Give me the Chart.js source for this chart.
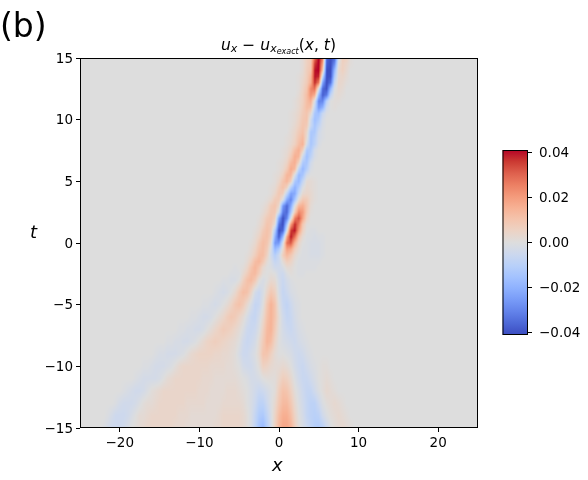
<!DOCTYPE html>
<html>
<head>
<meta charset="utf-8">
<style>
    body { margin: 0; background: #fff; }
    canvas { position: absolute; }
</style>
<script src="https://cdn.jsdelivr.net/npm/chart.js@4/dist/chart.umd.min.js"></script>
</head>
<body>
<canvas id="field" width="588" height="480" style="left:0;top:0"></canvas>
<canvas id="colorbar" width="98" height="205" style="left:490px;top:140px"></canvas>
<script>
// Tick labels
const xTicks = [-20, -10, 0, 10, 20];
const tTicks = [-15, -10, -5, 0, 5, 10, 15];
const barTicks = [-0.04, -0.02, 0, 0.02, 0.04];

// Grid: x every 0.5, values in thousandths.
// t every 0.5 where the band is narrow, every 1 below that.
const xStep = 0.5;
const tRows = [15, 14.5, 14, 13.5, 13, 12.5, 12, 11.5, 11, 10.5, 10, 9.5, 9, 8.5, 8, 7.5, 7, 6.5, 6, 5.5, 5, 4.5, 4, 3.5, 3, 2.5, 2, 1.5, 1, 0.5, 0, -0.5, -1, -1.5, -2, -2.5, -3, -4, -5, -6, -7, -8, -9, -10, -11, -12, -13, -14, -15];
// x of the first listed value in each row, everything outside the row is 0
const rowStarts = [3, 3, 3, 2.5, 2.5, 2.5, 2.5, 2, 2, 1.5, 1.5, 1.5, 1.5, 1, 1, 0.5, 0.5, 0, 0, -0.5, -0.5, -1, -1, -1.5, -2, -2.5, -2.5, -3, -3, -3, -3.5, -3.5, -4, -4.5, -5.5, -6, -7, -8, -9.5, -11, -12.5, -14, -15.5, -17, -18, -19.5, -20.5, -21.5, -22];
const rowValues = [
    [2, 6, 8, 30, 42, 26, -36, -41, -36, -3, 7, 6, 1],
    [2, 6, 9, 36, 42, 18, -38, -41, -28, 1, 6, 4, 1],
    [2, 7, 10, 40, 42, 10, -41, -41, -18, 3, 6, 3, 0],
    [1, 3, 7, 14, 40, 38, -8, -41, -40, -12, 3, 4, 2],
    [1, 4, 8, 16, 38, 26, -24, -41, -34, -6, 4, 3, 1],
    [1, 5, 10, 24, 28, -2, -36, -40, -18, -1, 3, 2, 0],
    [2, 6, 12, 22, 16, -18, -38, -32, -8, 1, 2, 1],
    [1, 3, 6, 12, 16, -2, -30, -30, -10, 0, 1, 1],
    [1, 3, 7, 12, 11, -8, -26, -20, -4, 0, 1],
    [1, 2, 4, 8, 10, 3, -14, -16, -6, -1],
    [1, 2, 5, 9, 10, -4, -16, -12, -3, 0],
    [1, 3, 6, 10, 8, -6, -14, -8, -2],
    [2, 4, 8, 11, 4, -13, -13, -4, -1],
    [1, 2, 5, 10, 13, 2, -14, -10, -3, -1],
    [1, 3, 6, 12, 15, -3, -14, -9, -2, 0],
    [1, 2, 5, 12, 16, 6, -13, -12, -3, 0],
    [1, 3, 8, 16, 14, -5, -16, -9, -2, 0],
    [1, 2, 5, 13, 16, 5, -13, -14, -4, 0],
    [1, 3, 8, 17, 13, -8, -18, -11, -2, 0],
    [1, 2, 6, 14, 14, -2, -18, -14, -3, 0, 0],
    [1, 4, 10, 14, 7, -13, -18, -7, 2, 2, 1],
    [1, 2, 7, 11, 6, -10, -20, -12, -1, 3, 2, 1],
    [1, 4, 9, 7, -8, -24, -22, -6, 3, 4, 3, 1],
    [1, 3, 8, 8, -2, -22, -30, -14, 2, 9, 8, 3, 1],
    [1, 3, 8, 10, 4, -26, -36, -22, 0, 14, 16, 9, 2, 0],
    [0, 2, 5, 9, 9, -4, -32, -36, -14, 8, 24, 20, 8, 1],
    [1, 4, 8, 10, 6, -24, -41, -30, -2, 26, 33, 18, 5, 0],
    [0, 2, 5, 10, 9, 1, -34, -41, -14, 20, 38, 26, 9, 1, 0],
    [1, 3, 8, 11, 8, -12, -41, -36, -2, 36, 40, 20, 6, 0, -1, -1],
    [2, 5, 10, 11, 6, -20, -38, -18, 18, 40, 28, 10, 2, -1, -1, -2, -1, -1],
    [1, 3, 8, 12, 10, 2, -26, -26, -3, 28, 32, 15, 4, 0, -1, -2, -2, -2, -1],
    [2, 5, 10, 12, 8, -2, -18, -12, 3, 19, 17, 7, 2, -1, -1, -2, -2, -2, -1],
    [1, 3, 7, 12, 12, 6, -4, -11, -5, 7, 13, 9, 3, 0, -1, -1, -2, -2, -2, -1],
    [0, 2, 6, 12, 14, 9, 2, -2, -7, -5, 2, 7, 5, 1, -1, -1, -1, -1, -1, -1],
    [-1, 0, 1, 4, 10, 14, 10, 3, 0, -1, -4, -4, -2, 2, 2, 0, -1, -1, -1, -1, -1],
    [-1, -1, -1, 3, 7, 12, 13, 7, 1, 0, 1, 0, -4, -5, -1, 1, 0, -1, -1, 0],
    [-1, -1, -2, -2, 0, 6, 11, 13, 9, 1, -2, 0, 3, 2, -3, -6, -3, -1, 0, 0, 0],
    [-1, -2, -3, -2, 0, 3, 8, 12, 11, 5, -3, -6, -2, 4, 9, 6, -2, -7, -5, -2, -1],
    [-1, -1, -2, -3, -2, 0, 2, 5, 9, 11, 8, 3, -2, -7, -6, 0, 9, 15, 10, 0, -6, -8, -5, -2, -1],
    [-1, -1, -2, -3, -3, -2, 0, 2, 4, 7, 9, 8, 5, 2, -2, -6, -7, -3, 3, 11, 15, 10, 2, -4, -7, -6, -3, -1],
    [-1, -1, -2, -2, -3, -3, -2, 0, 2, 4, 6, 8, 7, 6, 4, 2, -1, -5, -6, -5, -1, 6, 13, 15, 8, 1, -3, -5, -6, -4, -2, -1],
    [-1, -1, -2, -2, -3, -3, -2, -1, 1, 3, 5, 6, 7, 6, 5, 4, 3, 2, 0, -4, -6, -5, -3, 2, 8, 14, 12, 5, 0, -2, -3, -4, -5, -3, -2, -1],
    [-1, -2, -2, -3, -3, -3, -2, -1, 1, 3, 4, 5, 5, 5, 5, 4, 4, 3, 3, 2, 1, -2, -5, -5, -3, -1, 3, 10, 10, 6, 2, 0, 0, -1, -2, -4, -5, -4, -2, -1],
    [-1, -1, -2, -3, -3, -3, -2, -1, 1, 3, 4, 4, 4, 4, 4, 4, 4, 3, 3, 3, 3, 2, 2, 1, 0, -3, -4, -4, -2, 1, 6, 5, 3, 2, 2, 3, 2, 0, -3, -5, -6, -4, -2, -1, 0, 1, 1],
    [-1, -2, -3, -3, -3, -3, -2, 0, 2, 3, 4, 4, 4, 4, 4, 4, 4, 3, 3, 3, 2, 2, 2, 2, 2, 2, 1, 0, -1, -3, -3, -2, 0, 1, 1, 1, 4, 7, 6, 3, -1, -4, -6, -6, -4, -2, 0, 1, 2, 1],
    [-1, -2, -3, -4, -4, -3, -1, 1, 2, 3, 4, 4, 4, 4, 4, 4, 4, 4, 4, 3, 3, 3, 2, 2, 2, 2, 3, 3, 3, 2, 1, 0, -2, -4, -6, -5, -3, -1, 1, 7, 11, 10, 6, 1, -2, -5, -7, -7, -4, -1, 1, 3, 2, 1],
    [-1, -3, -4, -4, -4, -3, -1, 1, 2, 2, 3, 4, 4, 4, 4, 4, 4, 4, 3, 3, 3, 3, 3, 2, 2, 2, 2, 3, 3, 3, 3, 3, 2, 0, -2, -5, -9, -9, -5, -1, 3, 9, 13, 13, 9, 3, -1, -4, -7, -9, -9, -5, -1, 1, 2, 3, 2, 1],
    [-1, -3, -5, -5, -5, -4, -2, 0, 2, 2, 3, 4, 4, 4, 4, 4, 4, 4, 3, 3, 3, 2, 2, 2, 2, 2, 2, 2, 3, 4, 4, 4, 4, 4, 3, 1, -2, -7, -12, -13, -8, -2, 5, 12, 16, 16, 12, 5, 0, -3, -7, -9, -10, -9, -4, -1, 1, 2, 3, 2, 1],
    [-1, -3, -5, -5, -5, -4, -2, 0, 1, 2, 3, 4, 4, 4, 4, 4, 4, 4, 3, 3, 3, 2, 2, 2, 2, 2, 2, 2, 3, 3, 4, 4, 4, 4, 4, 3, 1, -2, -8, -15, -18, -11, -3, 6, 14, 18, 18, 15, 7, 1, -2, -5, -8, -11, -12, -10, -5, -1, 1, 2, 3, 2, 1]
];

// coolwarm stops, position 0..1 then r, g, b
const cmapStops = [
    [0, 59, 76, 192], [0.0625, 77, 104, 215], [0.125, 98, 130, 234], [0.1875, 119, 154, 247],
    [0.25, 141, 176, 254], [0.3125, 163, 194, 255], [0.375, 184, 208, 249], [0.4375, 204, 216, 238],
    [0.5, 221, 221, 221], [0.5625, 236, 211, 197], [0.625, 244, 196, 173], [0.6875, 247, 177, 148],
    [0.75, 244, 154, 123], [0.8125, 236, 127, 99], [0.875, 222, 96, 77], [0.9375, 203, 58, 50], [1, 180, 4, 38]
];
const vLimit = 0.0413;

const FONT = '"DejaVu Sans"';

function colorAt(frac) {
    const f = Math.min(1, Math.max(0, frac));
    for (let i = 1; i < cmapStops.length; i++) {
        const a = cmapStops[i - 1], b = cmapStops[i];
        if (f <= b[0]) {
            const k = (f - a[0]) / (b[0] - a[0]);
            return [a[1] + (b[1] - a[1]) * k, a[2] + (b[2] - a[2]) * k, a[3] + (b[3] - a[3]) * k];
        }
    }
    return cmapStops[cmapStops.length - 1].slice(1);
}

function minusSign(text) {
    return String(text).replace('-', '\u2212');
}

const cells = [];
tRows.forEach((t, r) => {
    rowValues[r].forEach((v, i) => {
        cells.push({ x: rowStarts[r] + i * xStep, y: t, v: v / 1000 });
    });
});

// Gouraud style shading of the cells, one pixel at a time through the scales
const heatmapPlugin = {
    id: 'heatmap',
    beforeDatasetsDraw(chart) {
        const { ctx, chartArea: a, scales } = chart;
        const x0 = scales.x.min;
        const cols = Math.round((scales.x.max - x0) / xStep) + 1;
        const grid = tRows.map(() => new Float32Array(cols));
        chart.data.datasets[0].data.forEach(c => {
            grid[tRows.indexOf(c.y)][Math.round((c.x - x0) / xStep)] = c.v;
        });

        const w = Math.round(a.right - a.left);
        const h = Math.round(a.bottom - a.top);
        const img = ctx.createImageData(w, h);
        for (let py = 0; py < h; py++) {
            const t = scales.y.getValueForPixel(a.top + py + 0.5);
            let r = 0;
            while (r < tRows.length - 2 && tRows[r + 1] > t) r++;
            const kt = Math.min(1, Math.max(0, (tRows[r] - t) / (tRows[r] - tRows[r + 1])));
            for (let px = 0; px < w; px++) {
                const fx = (scales.x.getValueForPixel(a.left + px + 0.5) - x0) / xStep;
                const c0 = Math.max(0, Math.min(cols - 2, Math.floor(fx)));
                const kx = Math.min(1, Math.max(0, fx - c0));
                const top = grid[r][c0] * (1 - kx) + grid[r][c0 + 1] * kx;
                const low = grid[r + 1][c0] * (1 - kx) + grid[r + 1][c0 + 1] * kx;
                const rgb = colorAt((top * (1 - kt) + low * kt + vLimit) / (2 * vLimit));
                const k = (py * w + px) * 4;
                img.data[k] = rgb[0];
                img.data[k + 1] = rgb[1];
                img.data[k + 2] = rgb[2];
                img.data[k + 3] = 255;
            }
        }
        ctx.putImageData(img, Math.round(a.left), Math.round(a.top));
    }
};

function drawPieces(ctx, pieces, x) {
    pieces.forEach(p => {
        ctx.font = p.font;
        ctx.fillText(p.text, x, p.y);
        x += ctx.measureText(p.text).width + (p.gap || 0);
    });
}

const frameAndLabels = {
    id: 'frameAndLabels',
    afterDraw(chart) {
        const { ctx, chartArea: a } = chart;
        ctx.save();
        ctx.strokeStyle = '#000';
        ctx.lineWidth = 1;
        ctx.strokeRect(a.left + 0.5, a.top + 0.5, a.right - a.left - 1, a.bottom - a.top - 1);

        ctx.fillStyle = '#000';
        ctx.textAlign = 'left';
        ctx.textBaseline = 'alphabetic';
        ctx.font = `33px ${FONT}`;
        ctx.fillText('(b)', 0, 37);

        ctx.font = `italic 18px ${FONT}`;
        ctx.fillText('x', 272, 471);
        ctx.fillText('t', 30, 238);

        const it = `italic 15.5px ${FONT}`;
        const plain = `15.5px ${FONT}`;
        const sub = `italic 11px ${FONT}`;
        const tiny = `italic 8px ${FONT}`;
        drawPieces(ctx, [
            { text: 'u', font: it, y: 50 },
            { text: 'x', font: sub, y: 52, gap: 5 },
            { text: '\u2212', font: plain, y: 50, gap: 5 },
            { text: 'u', font: it, y: 50 },
            { text: 'x', font: sub, y: 52 },
            { text: 'exact', font: tiny, y: 54 },
            { text: '(', font: plain, y: 50 },
            { text: 'x', font: it, y: 50 },
            { text: ', ', font: plain, y: 50 },
            { text: 't', font: it, y: 50 },
            { text: ')', font: plain, y: 50 }
        ], 221);
        ctx.restore();
    }
};

new Chart(document.getElementById('field'), {
    type: 'scatter',
    data: { datasets: [{ label: 'u_x error', data: cells, pointRadius: 0, pointHoverRadius: 0, showLine: false }] },
    plugins: [heatmapPlugin, frameAndLabels],
    options: {
        responsive: false,
        animation: false,
        layout: { padding: { left: 0, top: 58, right: 110, bottom: 0 } },
        plugins: { legend: { display: false }, tooltip: { enabled: false }, title: { display: false } },
        scales: {
            x: {
                type: 'linear',
                min: -25,
                max: 25,
                afterFit(scale) { scale.height = 52; scale.paddingLeft = 0; scale.paddingRight = 0; },
                afterBuildTicks(scale) { scale.ticks = xTicks.map(v => ({ value: v })); },
                border: { display: false },
                grid: { drawOnChartArea: false, drawTicks: true, tickLength: 4, color: '#000' },
                ticks: {
                    color: '#000',
                    maxRotation: 0,
                    padding: 3,
                    font: { family: FONT, size: 13.5 },
                    callback: v => minusSign(v)
                }
            },
            y: {
                type: 'linear',
                min: -15,
                max: 15,
                afterFit(scale) { scale.width = 80; scale.paddingTop = 0; scale.paddingBottom = 0; },
                afterBuildTicks(scale) { scale.ticks = tTicks.map(v => ({ value: v })); },
                border: { display: false },
                grid: { drawOnChartArea: false, drawTicks: true, tickLength: 4, color: '#000' },
                ticks: {
                    color: '#000',
                    padding: 3,
                    labelOffset: 1,
                    font: { family: FONT, size: 13.5 },
                    callback: v => minusSign(v)
                }
            }
        }
    }
});

const barFrame = {
    id: 'barFrame',
    afterDraw(chart) {
        const { ctx, chartArea: a } = chart;
        ctx.save();
        ctx.strokeStyle = '#000';
        ctx.lineWidth = 1;
        ctx.strokeRect(a.left + 0.5, a.top + 0.5, a.right - a.left - 1, a.bottom - a.top - 1);
        ctx.restore();
    }
};

function barGradient(context) {
    const area = context.chart.chartArea;
    if (!area) return '#ddd';
    const g = context.chart.ctx.createLinearGradient(0, area.bottom, 0, area.top);
    cmapStops.forEach(s => g.addColorStop(s[0], `rgb(${s[1]},${s[2]},${s[3]})`));
    return g;
}

new Chart(document.getElementById('colorbar'), {
    type: 'bar',
    data: {
        labels: ['scale'],
        datasets: [{ data: [[-vLimit, vLimit]], backgroundColor: barGradient, barPercentage: 1, categoryPercentage: 1 }]
    },
    plugins: [barFrame],
    options: {
        responsive: false,
        animation: false,
        layout: { padding: { left: 12.5, top: 10, right: 0, bottom: 10 } },
        plugins: { legend: { display: false }, tooltip: { enabled: false } },
        scales: {
            x: { display: false },
            y: {
                position: 'right',
                min: -vLimit,
                max: vLimit,
                afterFit(scale) { scale.width = 60; scale.paddingTop = 0; scale.paddingBottom = 0; },
                afterBuildTicks(scale) { scale.ticks = barTicks.map(v => ({ value: v })); },
                border: { display: false },
                grid: { drawOnChartArea: false, drawTicks: true, tickLength: 4, color: '#000' },
                ticks: {
                    color: '#000',
                    padding: 7,
                    labelOffset: 1,
                    font: { family: FONT, size: 13.5 },
                    callback: v => minusSign(v.toFixed(2))
                }
            }
        }
    }
});
</script>
</body>
</html>
